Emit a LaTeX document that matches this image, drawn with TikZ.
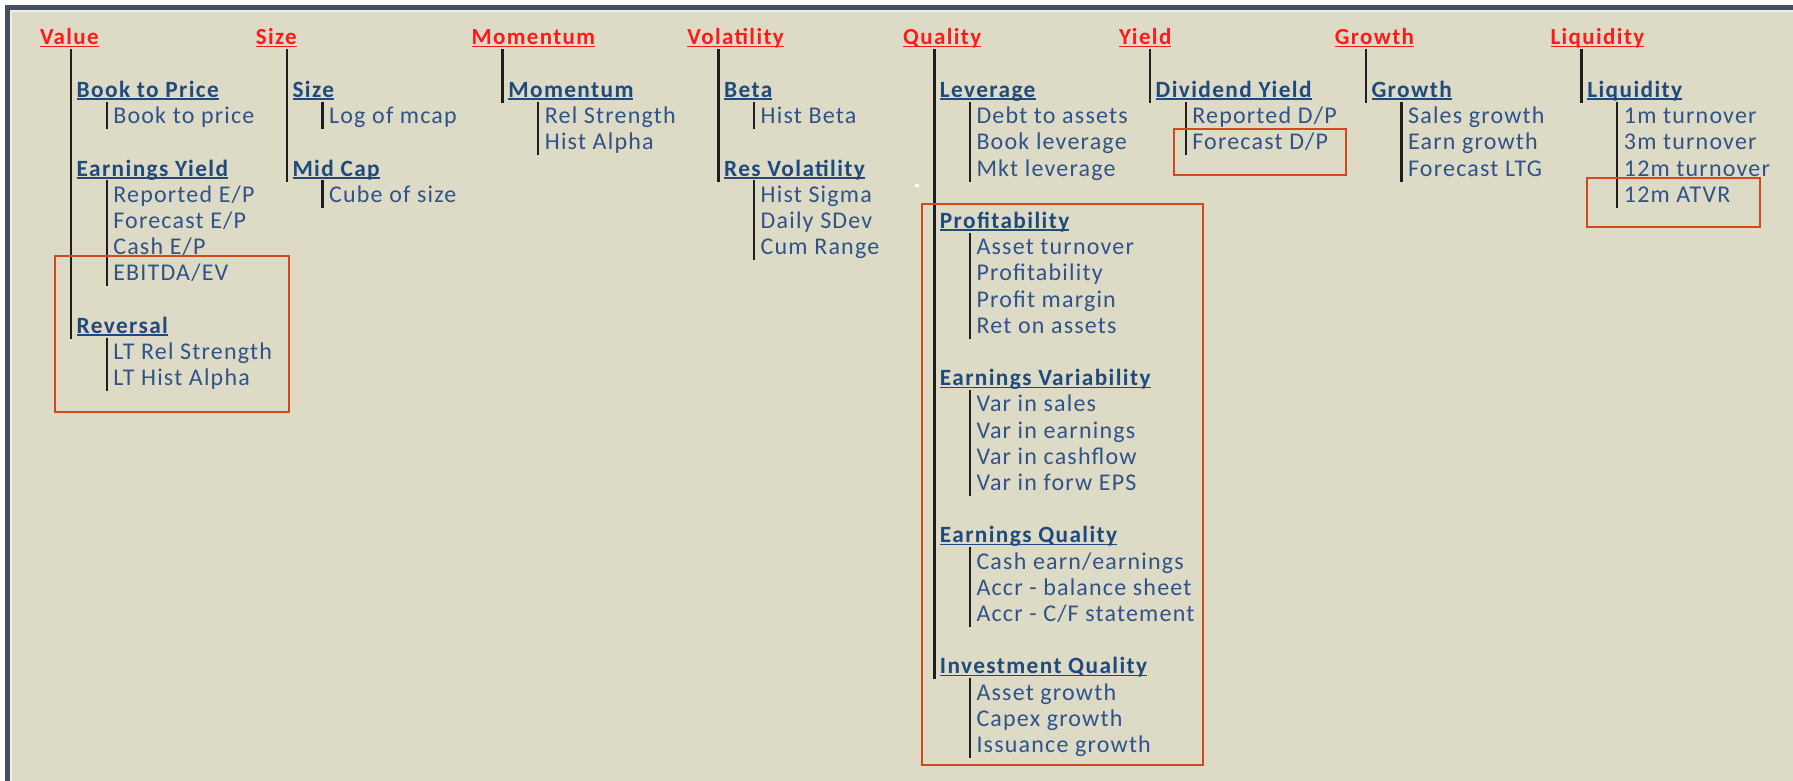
\documentclass[tikz,border=0pt]{standalone}
\usepackage{fontspec}
\setmainfont{Carlito}[LetterSpace=6]
\newfontfamily\itemfont{Carlito}[LetterSpace=5]
\usetikzlibrary{calc}
\definecolor{bgbeige}{HTML}{DDDAC5}
\definecolor{framedark}{HTML}{47505A}
\definecolor{framelight}{HTML}{EEEEEA}
\definecolor{hdred}{HTML}{FF1A1A}
\definecolor{sbblue}{HTML}{1F4A7E}
\definecolor{itblue}{HTML}{30538A}
\definecolor{boxred}{HTML}{D04A1C}
\definecolor{linedark}{HTML}{1E1E1E}
\tikzset{
  txt/.style={inner sep=0pt, outer sep=0pt, anchor=base west, font=\fontsize{23}{26}\selectfont},
  hd/.style={txt, text=hdred, font=\fontsize{23}{26}\selectfont\bfseries},
  sb/.style={txt, text=sbblue, font=\fontsize{23.3}{26}\selectfont\bfseries},
  it/.style={txt, text=itblue, font=\itemfont\fontsize{24}{26}\selectfont},
  ulred/.style={draw=hdred, line width=1.6pt},
  ulblue/.style={draw=sbblue, line width=1.6pt},
  trunk/.style={draw=linedark, line width=2.6pt},
  twig/.style={draw=linedark, line width=2.3pt},
  redbox/.style={draw=boxred, line width=2pt}
}
\newcommand\Hd[3]{\node[hd] (#1) at ({40+215.8*#2},45) {#3};
  \draw[ulred] ($(#1.base west)+(0,1.6)$) -- ($(#1.base east)+(0,1.6)$);}
\newcommand\Sb[4]{\node[sb] (#1) at ({76.7+215.8*#2},{45+26.2*#3}) {#4};
  \draw[ulblue] ($(#1.base west)+(0,1.8)$) -- ($(#1.base east)+(0,1.8)$);}
\newcommand\It[4]{\node[it] (#1) at ({113.3+215.8*#2},{45+26.2*#3}) {#4};}
\newcommand\Trunk[2]{\draw[trunk] ($(#1.base west)+(31,4.3)$) -- ($(#1.base west |- #2.base)+(31,5.5)$);}
\newcommand\Twig[2]{\draw[twig] ($(#1.base west)+(30,4.3)$) -- ($(#1.base west |- #2.base)+(30,5.5)$);}
\begin{document}
\begin{tikzpicture}[x=1pt,y=-1pt]
\useasboundingbox (0,0) rectangle (1793,781);
\fill[white] (0,0) rectangle (1793,781);
\fill[framedark] (5,5) rectangle (1793,781);
\fill[framelight] (10,10) rectangle (1793,781);
\fill[bgbeige] (12,12) rectangle (1793,781);
\fill[white] (915,184) rectangle (919,186.5);

% Value
\Hd{hV}{0}{Value}
\Sb{sV1}{0}{2}{Book to Price}
\It{iV1a}{0}{3}{Book to price}
\Sb{sV2}{0}{5}{Earnings Yield}
\It{iV2a}{0}{6}{Reported E/P}
\It{iV2b}{0}{7}{Forecast E/P}
\It{iV2c}{0}{8}{Cash E/P}
\It{iV2d}{0}{9}{EBITDA/EV}
\Sb{sV3}{0}{11}{Reversal}
\It{iV3a}{0}{12}{LT Rel Strength}
\It{iV3b}{0}{13}{LT Hist Alpha}
\Trunk{hV}{sV3}
\Twig{sV1}{iV1a}
\Twig{sV2}{iV2d}
\Twig{sV3}{iV3b}

% Size
\Hd{hS}{1}{Size}
\Sb{sS1}{1}{2}{Size}
\It{iS1a}{1}{3}{Log of mcap}
\Sb{sS2}{1}{5}{Mid Cap}
\It{iS2a}{1}{6}{Cube of size}
\Trunk{hS}{sS2}
\Twig{sS1}{iS1a}
\Twig{sS2}{iS2a}

% Momentum
\Hd{hM}{2}{Momentum}
\Sb{sM1}{2}{2}{Momentum}
\It{iM1a}{2}{3}{Rel Strength}
\It{iM1b}{2}{4}{Hist Alpha}
\Trunk{hM}{sM1}
\Twig{sM1}{iM1b}

% Volatility
\Hd{hVo}{3}{Volatility}
\Sb{sVo1}{3}{2}{Beta}
\It{iVo1a}{3}{3}{Hist Beta}
\Sb{sVo2}{3}{5}{Res Volatility}
\It{iVo2a}{3}{6}{Hist Sigma}
\It{iVo2b}{3}{7}{Daily SDev}
\It{iVo2c}{3}{8}{Cum Range}
\Trunk{hVo}{sVo2}
\Twig{sVo1}{iVo1a}
\Twig{sVo2}{iVo2c}

% Quality
\Hd{hQ}{4}{Quality}
\Sb{sQ1}{4}{2}{Leverage}
\It{iQ1a}{4}{3}{Debt to assets}
\It{iQ1b}{4}{4}{Book leverage}
\It{iQ1c}{4}{5}{Mkt leverage}
\Sb{sQ2}{4}{7}{Profitability}
\It{iQ2a}{4}{8}{Asset turnover}
\It{iQ2b}{4}{9}{Profitability}
\It{iQ2c}{4}{10}{Profit margin}
\It{iQ2d}{4}{11}{Ret on assets}
\Sb{sQ3}{4}{13}{Earnings Variability}
\It{iQ3a}{4}{14}{Var in sales}
\It{iQ3b}{4}{15}{Var in earnings}
\It{iQ3c}{4}{16}{Var in cashflow}
\It{iQ3d}{4}{17}{Var in forw EPS}
\Sb{sQ4}{4}{19}{Earnings Quality}
\It{iQ4a}{4}{20}{Cash earn/earnings}
\It{iQ4b}{4}{21}{Accr - balance sheet}
\It{iQ4c}{4}{22}{Accr - C/F statement}
\Sb{sQ5}{4}{24}{Investment Quality}
\It{iQ5a}{4}{25}{Asset growth}
\It{iQ5b}{4}{26}{Capex growth}
\It{iQ5c}{4}{27}{Issuance growth}
\Trunk{hQ}{sQ5}
\Twig{sQ1}{iQ1c}
\Twig{sQ2}{iQ2d}
\Twig{sQ3}{iQ3d}
\Twig{sQ4}{iQ4c}
\Twig{sQ5}{iQ5c}

% Yield
\Hd{hY}{5}{Yield}
\Sb{sY1}{5}{2}{Dividend Yield}
\It{iY1a}{5}{3}{Reported D/P}
\It{iY1b}{5}{4}{Forecast D/P}
\Trunk{hY}{sY1}
\Twig{sY1}{iY1b}

% Growth
\Hd{hG}{6}{Growth}
\Sb{sG1}{6}{2}{Growth}
\It{iG1a}{6}{3}{Sales growth}
\It{iG1b}{6}{4}{Earn growth}
\It{iG1c}{6}{5}{Forecast LTG}
\Trunk{hG}{sG1}
\Twig{sG1}{iG1c}

% Liquidity
\Hd{hL}{7}{Liquidity}
\Sb{sL1}{7}{2}{Liquidity}
\It{iL1a}{7}{3}{1m turnover}
\It{iL1b}{7}{4}{3m turnover}
\It{iL1c}{7}{5}{12m turnover}
\It{iL1d}{7}{6}{12m ATVR}
\Trunk{hL}{sL1}
\Twig{sL1}{iL1d}

% highlight boxes
\draw[redbox] (55,256) rectangle (289,412);
\draw[redbox] (1174,129.5) rectangle (1346,175);
\draw[redbox] (922,204) rectangle (1202.7,765);
\draw[redbox] (1587.3,177.7) rectangle (1760.3,226.7);
\end{tikzpicture}
\end{document}
